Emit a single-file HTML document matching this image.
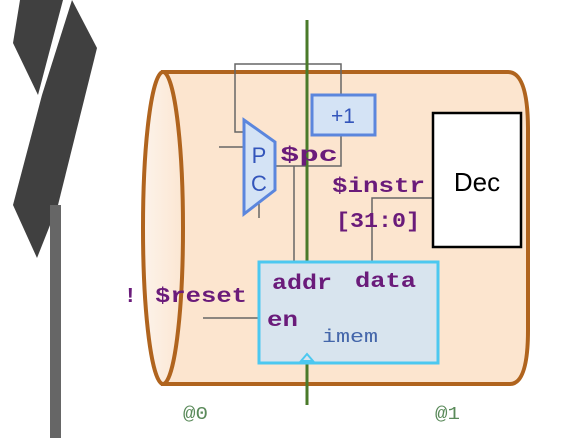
<!DOCTYPE html>
<html><head><style>html,body{margin:0;padding:0;background:#fff}svg{display:block}</style></head>
<body>
<svg width="565" height="438" viewBox="0 0 565 438" xmlns="http://www.w3.org/2000/svg">
<defs>
<linearGradient id="lg" x1="0" x2="1"><stop offset="0" stop-color="#fdf3ea"/><stop offset="1" stop-color="#fbe6d2"/></linearGradient>
</defs>
<polygon points="20,0 63,0 38,95 13,43" fill="#404040"/>
<polygon points="72,0 97,48 58,205 37,258 13,205 42,95" fill="#404040"/>
<rect x="50" y="205" width="11" height="233" fill="#666"/>
<path d="M163,72 L508,72 Q528,72 528,130 L528,330 Q528,384 510,384 L163,384 Z" fill="#fce5cf" stroke="#b0641e" stroke-width="4"/>
<ellipse cx="163" cy="228" rx="20" ry="156" fill="url(#lg)" stroke="#b0641e" stroke-width="4"/>
<g stroke="#666" stroke-width="1.5" fill="none">
<polyline points="244,132 235,132 235,64 341,64 341,95"/>
<line x1="219" y1="147" x2="244" y2="147"/>
<line x1="259" y1="204" x2="259" y2="218"/>
<polyline points="275,166 341,166 341,135"/>
<line x1="294" y1="166" x2="294" y2="262"/>
<polyline points="433,198 372,198 372,262"/>
<line x1="203" y1="318" x2="259" y2="318"/>
</g>
<line x1="307" y1="20" x2="307" y2="405" stroke="#4a7a2a" stroke-width="3"/>
<polygon points="244,120 275,142 275,190 244,214" fill="#d4e3f5" stroke="#5b86dd" stroke-width="3"/>
<text x="259" y="163" font-family="Liberation Sans, sans-serif" font-size="22" fill="#3355bb" text-anchor="middle">P</text>
<text x="259" y="191" font-family="Liberation Sans, sans-serif" font-size="22" fill="#3355bb" text-anchor="middle">C</text>
<rect x="312" y="95" width="63" height="40" fill="#d4e3f5" stroke="#5b86dd" stroke-width="3"/>
<text x="343" y="123" font-family="Liberation Sans, sans-serif" font-size="21" fill="#3355bb" text-anchor="middle">+1</text>
<rect x="433" y="113" width="88" height="134" fill="#fff" stroke="#000" stroke-width="2.5"/>
<text x="477" y="191" font-family="Liberation Sans, sans-serif" font-size="26" fill="#000" text-anchor="middle">Dec</text>
<g font-family="Liberation Mono, monospace" font-weight="bold" fill="#6a1b7a" font-size="21">
<text x="280" y="161" textLength="58" lengthAdjust="spacingAndGlyphs">$pc</text>
<text x="332" y="192" textLength="93" lengthAdjust="spacingAndGlyphs">$instr</text>
<text x="336" y="227" textLength="84" lengthAdjust="spacingAndGlyphs">[31:0]</text>
<text x="124" y="302">!</text>
<text x="155" y="302" textLength="92" lengthAdjust="spacingAndGlyphs">$reset</text>
</g>
<rect x="259" y="262" width="179" height="101" fill="#d8e4ee" stroke="#4cc8f0" stroke-width="3"/>
<polygon points="301,361 307,354 313,361" fill="#d8e4ee" stroke="#4cc8f0" stroke-width="2"/>
<g font-family="Liberation Mono, monospace" font-weight="bold" fill="#6a1b7a" font-size="21">
<text x="272" y="289" textLength="60" lengthAdjust="spacingAndGlyphs">addr</text>
<text x="355" y="287" textLength="61" lengthAdjust="spacingAndGlyphs">data</text>
<text x="267" y="326" textLength="31" lengthAdjust="spacingAndGlyphs">en</text>
</g>
<text x="322" y="342" font-family="Liberation Mono, monospace" font-size="18" fill="#4466aa" textLength="56" lengthAdjust="spacingAndGlyphs">imem</text>
<text x="183" y="419" font-family="Liberation Mono, monospace" font-size="18" fill="#5a8a5a" textLength="25" lengthAdjust="spacingAndGlyphs">@0</text>
<text x="435" y="419" font-family="Liberation Mono, monospace" font-size="18" fill="#5a8a5a" textLength="25" lengthAdjust="spacingAndGlyphs">@1</text>
</svg>
</body></html>
